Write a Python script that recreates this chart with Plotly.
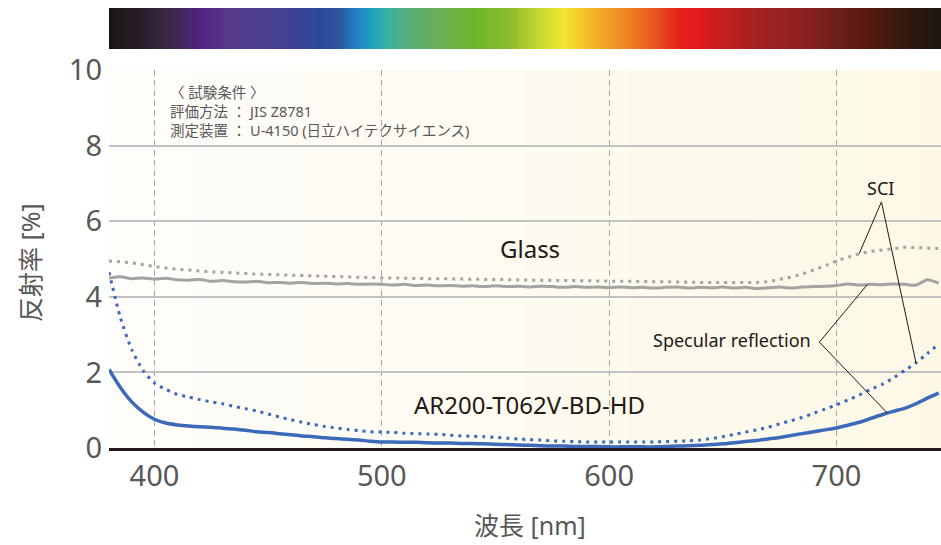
import plotly.graph_objects as go
import numpy as np

# Wavelength grid (nm)
wavelength = list(range(380, 750, 5))

# AR200-T062V-BD-HD, specular reflection [%]
ar_specular = [
    2.08, 1.60, 1.22, 0.95, 0.76, 0.66, 0.61, 0.58, 0.56, 0.55,
    0.52, 0.50, 0.47, 0.43, 0.41, 0.38, 0.35, 0.32, 0.30, 0.27,
    0.25, 0.23, 0.21, 0.18, 0.16, 0.16, 0.15, 0.15, 0.14, 0.13,
    0.13, 0.12, 0.12, 0.11, 0.10, 0.09, 0.08, 0.07, 0.06, 0.05,
    0.05, 0.04, 0.04, 0.04, 0.03, 0.03, 0.03, 0.03, 0.03, 0.04,
    0.05, 0.06, 0.07, 0.09, 0.11, 0.14, 0.17, 0.20, 0.24, 0.28,
    0.33, 0.38, 0.43, 0.48, 0.53, 0.60, 0.68, 0.78, 0.88, 0.97,
    1.05, 1.17, 1.32, 1.45,
]

# AR200-T062V-BD-HD, SCI [%]
ar_sci = [
    4.65, 3.45, 2.60, 2.05, 1.72, 1.55, 1.42, 1.35, 1.28, 1.22,
    1.17, 1.10, 1.04, 0.98, 0.90, 0.82, 0.75, 0.68, 0.62, 0.57,
    0.53, 0.49, 0.46, 0.43, 0.42, 0.41, 0.39, 0.38, 0.37, 0.36,
    0.34, 0.32, 0.31, 0.30, 0.28, 0.26, 0.24, 0.22, 0.21, 0.19,
    0.18, 0.17, 0.16, 0.16, 0.16, 0.16, 0.16, 0.16, 0.16, 0.17,
    0.18, 0.19, 0.21, 0.25, 0.30, 0.36, 0.42, 0.48, 0.55, 0.64,
    0.72, 0.81, 0.92, 1.03, 1.14, 1.27, 1.40, 1.55, 1.68, 1.85,
    2.05, 2.25, 2.50, 2.75,
]

# Glass, specular reflection [%]
glass_specular = [
    4.50, 4.53, 4.48, 4.50, 4.47, 4.49, 4.45, 4.44, 4.46, 4.41,
    4.43, 4.40, 4.39, 4.41, 4.37, 4.38, 4.36, 4.38, 4.35, 4.36,
    4.34, 4.35, 4.33, 4.34, 4.33, 4.31, 4.33, 4.30, 4.31, 4.29,
    4.30, 4.28, 4.29, 4.27, 4.29, 4.27, 4.28, 4.26, 4.28, 4.27,
    4.25, 4.27, 4.25, 4.26, 4.24, 4.26, 4.24, 4.25, 4.23, 4.25,
    4.26, 4.23, 4.25, 4.24, 4.26, 4.23, 4.25, 4.22, 4.24, 4.26,
    4.23, 4.26, 4.27, 4.28, 4.30, 4.34, 4.31, 4.33, 4.32, 4.34,
    4.33, 4.31, 4.45, 4.36,
]

# Glass, SCI [%]
glass_sci = [
    4.95, 4.93, 4.90, 4.85, 4.80, 4.76, 4.73, 4.70, 4.68, 4.66,
    4.65, 4.63, 4.62, 4.60, 4.59, 4.58, 4.57, 4.56, 4.55, 4.54,
    4.53, 4.52, 4.52, 4.51, 4.50, 4.50, 4.49, 4.49, 4.48, 4.48,
    4.47, 4.47, 4.46, 4.46, 4.46, 4.45, 4.45, 4.44, 4.44, 4.43,
    4.43, 4.43, 4.42, 4.42, 4.42, 4.41, 4.41, 4.40, 4.40, 4.40,
    4.39, 4.39, 4.38, 4.38, 4.38, 4.37, 4.37, 4.38, 4.40, 4.45,
    4.52, 4.60, 4.70, 4.82, 4.95, 5.05, 5.14, 5.20, 5.24, 5.28,
    5.31, 5.30, 5.29, 5.28,
]

# Visible spectrum colour stops (nm, colour)
spectrum_nm = [380, 394, 407, 420, 433, 446, 464, 473, 481, 489, 497, 503,
               512, 525, 540, 556, 566, 580, 592, 606, 619, 631, 640, 648,
               666, 684, 701, 715, 728, 746]
spectrum_col = ["#1a1512", "#2a1c2a", "#3a2a45", "#52237f", "#563a8c", "#4f3e8f",
                "#3b4394", "#2a4a98", "#2d55a0", "#1e80c8", "#22a8b8", "#3ab0a0",
                "#5aae7a", "#6aae55", "#6db52e", "#8abb2a", "#b8d030", "#f2e631",
                "#f5b72a", "#f08a24", "#e85a1e", "#e5201a", "#e31a1a", "#c81e1e",
                "#a42121", "#8f2222", "#6d1f1a", "#55190f", "#3a1a10", "#1a1510"]

# Test conditions
conditions = ["〈 試験条件 〉", "評価方法 ： JIS Z8781", "測定装置 ： U-4150 (日立ハイテクサイエンス)"]

x_min, x_max = 380, 746
BLUE = "#3c69b9"
GRAY = "#a3a3a3"
INK = "#231815"
TICK = "#595757"

fig = go.Figure()

# spectrum strip above the plot
strip_x = np.arange(x_min, x_max + 1, 1.0)
lo, hi = spectrum_nm[0], spectrum_nm[-1]
scale = [[(w - lo) / (hi - lo), c] for w, c in zip(spectrum_nm, spectrum_col)]
fig.add_trace(go.Heatmap(
    x=strip_x, y=[0], z=[strip_x], colorscale=scale, zmin=lo, zmax=hi,
    showscale=False, hoverinfo="skip", yaxis="y2", xaxis="x"))

# glass curves
fig.add_trace(go.Scatter(x=wavelength, y=glass_sci, mode="lines",
                         line=dict(color=GRAY, width=3, dash="3px,5px"),
                         name="Glass SCI"))
fig.add_trace(go.Scatter(x=wavelength, y=glass_specular, mode="lines",
                         line=dict(color=GRAY, width=3, shape="spline", smoothing=0.6),
                         name="Glass specular"))
# AR film curves
fig.add_trace(go.Scatter(x=wavelength, y=ar_sci, mode="lines",
                         line=dict(color=BLUE, width=3, dash="3px,5px", shape="spline", smoothing=0.6),
                         name="AR SCI"))
fig.add_trace(go.Scatter(x=wavelength, y=ar_specular, mode="lines",
                         line=dict(color=BLUE, width=3.5, shape="spline", smoothing=0.6),
                         name="AR specular"))

shapes = []
# warm background gradient (left nearly white -> right cream)
n_steps = 40
c0 = np.array([0xfe, 0xfd, 0xfa])
c1 = np.array([0xfd, 0xf8, 0xe6])
for i in range(n_steps):
    t = (i + 0.5) / n_steps
    c = (c0 * (1 - t) + c1 * t).round().astype(int)
    shapes.append(dict(type="rect", xref="x domain", yref="y domain",
                       x0=i / n_steps, x1=(i + 1) / n_steps, y0=0, y1=1,
                       fillcolor="rgb(%d,%d,%d)" % tuple(c), line=dict(width=0),
                       layer="below"))

# leader lines from the labels to the curves
def leader(x_apex, y_apex, x_end, series):
    y_end = float(np.interp(x_end, wavelength, series))
    return dict(type="line", xref="x", yref="y", x0=x_apex, y0=y_apex,
                x1=x_end, y1=y_end, line=dict(color=INK, width=1))

shapes += [
    leader(719.8, 6.51, 710.0, glass_sci),
    leader(719.8, 6.51, 735.0, ar_sci),
    leader(692.5, 2.80, 713.6, glass_specular),
    leader(692.5, 2.80, 722.4, ar_specular),
]

annotations = [
    dict(text="Glass", x=565, y=5.29, xref="x", yref="y", showarrow=False,
         font=dict(size=24, color=INK)),
    dict(text="AR200-T062V-BD-HD", x=565, y=1.14, xref="x", yref="y", showarrow=False,
         font=dict(size=24, color=INK)),
    dict(text="SCI", x=719.5, y=6.88, xref="x", yref="y", showarrow=False,
         font=dict(size=18, color=INK)),
    dict(text="Specular reflection", x=689.5, y=2.86, xref="x", yref="y", showarrow=False,
         xanchor="right", yanchor="middle", font=dict(size=18, color=INK)),
    # axis titles
    dict(text="反射率 [%]", x=-0.095, y=0.4227, xref="paper", yref="paper", showarrow=False,
         xanchor="center", yanchor="middle",
         textangle=-90, font=dict(size=25, color=TICK)),
    dict(text="波長 [nm]", x=0.506, y=-0.175, xref="paper", yref="paper", showarrow=False,
         xanchor="center", yanchor="middle",
         font=dict(size=25, color=TICK)),
    # test conditions block
    dict(text="<br>".join(conditions), x=0.0710, y=0.766, xref="paper", yref="paper",
         xanchor="left", yanchor="middle", align="left", showarrow=False,
         font=dict(size=14.5, color=TICK)),
]

plot_top = (448 - 70) / 440

fig.update_layout(
    width=941, height=545,
    margin=dict(l=109, r=0, t=8, b=97, autoexpand=False),
    paper_bgcolor="white",
    plot_bgcolor="#fefbf2",
    showlegend=False,
    font=dict(family="Noto Sans, Noto Sans CJK JP, sans-serif", color=TICK),
    shapes=shapes,
    annotations=annotations,
    xaxis=dict(range=[x_min, x_max], tickvals=[400, 500, 600, 700], automargin=False,
               showgrid=True, gridcolor="#a8a8a8", gridwidth=1, griddash="6px,4px",
               showline=True, linecolor=INK, linewidth=3, zeroline=False,
               ticks="", tickfont=dict(size=29, color=TICK), ticklabelstandoff=0,
               anchor="y"),
    yaxis=dict(range=[0, 10], tickvals=[0, 2, 4, 6, 8, 10], domain=[0, plot_top],
               automargin=False,
               showgrid=True, gridcolor="#c2c2c2", gridwidth=1.5, zeroline=False,
               showline=False, ticks="", tickfont=dict(size=29, color=TICK),
               ticklabelstandoff=6),
    yaxis2=dict(domain=[(448 - 49) / 440, 1], anchor="x", showticklabels=False,
                automargin=False,
                showgrid=False, zeroline=False, range=[-0.5, 0.5]),
)

fig.write_html("out.html")
